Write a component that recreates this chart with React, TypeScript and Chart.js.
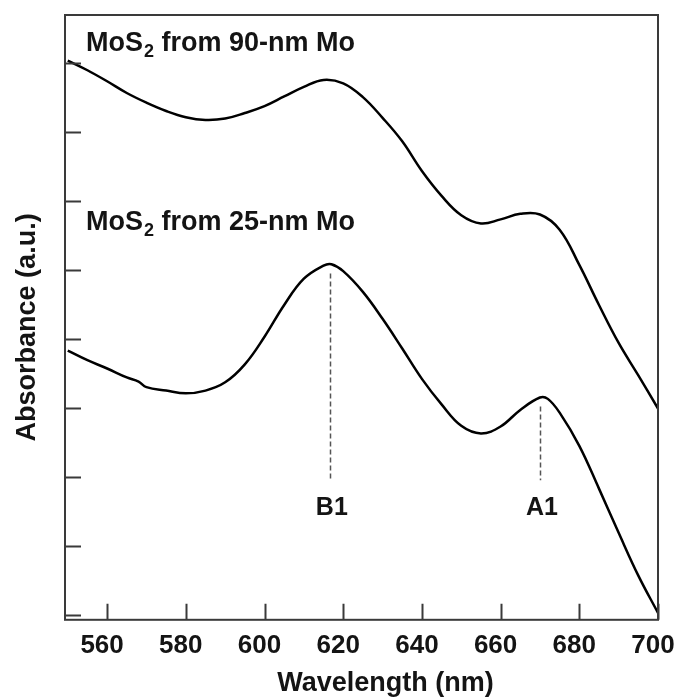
import React, { useEffect, useRef } from 'react';
import { Chart, registerables } from 'chart.js';

Chart.register(...registerables);

// ---- data ----
const WAVELENGTH_90 = [550, 555, 560, 565, 570, 575, 580, 585, 590, 595, 600, 605, 610, 615, 620, 625, 630, 635, 640, 645, 650, 655, 660, 665, 670, 675, 680, 685, 690, 695, 700];
const ABSORBANCE_90 = [8.03, 7.89, 7.73, 7.56, 7.42, 7.30, 7.21, 7.17, 7.19, 7.27, 7.37, 7.51, 7.65, 7.75, 7.70, 7.50, 7.20, 6.86, 6.43, 6.07, 5.79, 5.67, 5.73, 5.81, 5.80, 5.58, 5.07, 4.49, 3.94, 3.47, 2.99];

const WAVELENGTH_25 = [550, 555, 560, 565, 568, 570, 575, 580, 585, 590, 595, 600, 605, 610, 615, 617, 620, 625, 630, 635, 640, 645, 650, 655, 660, 665, 670, 672, 675, 680, 685, 690, 695, 700];
const ABSORBANCE_25 = [3.83, 3.69, 3.57, 3.44, 3.38, 3.30, 3.25, 3.21, 3.25, 3.37, 3.63, 4.03, 4.49, 4.87, 5.06, 5.08, 4.98, 4.68, 4.29, 3.86, 3.42, 3.05, 2.74, 2.63, 2.73, 2.97, 3.15, 3.13, 2.93, 2.45, 1.83, 1.19, 0.57, 0.03];

const X_TICKS = [560, 580, 600, 620, 640, 660, 680, 700];
const Y_TICKS = [0, 1, 2, 3, 4, 5, 6, 7, 8];

const SERIES_PREFIX = ['MoS', 'MoS'];
const SERIES_SUB = ['2', '2'];
const SERIES_SUFFIX = [' from 90-nm Mo', ' from 25-nm Mo'];

const PEAK_NAMES = ['B1', 'A1'];
const PEAK_WAVELENGTHS = [616.6, 670];

const X_TITLE = 'Wavelength (nm)';
const Y_TITLE = 'Absorbance (a.u.)';

const FONT = '"Liberation Sans", Arial, Helvetica, sans-serif';
const AXIS_COLOR = '#3a3a3a';
const TEXT_COLOR = '#141414';

function interp(xs: number[], ys: number[], x: number) {
  for (let i = 0; i < xs.length - 1; i++) {
    if (x >= xs[i] && x <= xs[i + 1]) {
      const t = (x - xs[i]) / (xs[i + 1] - xs[i]);
      return ys[i] + t * (ys[i + 1] - ys[i]);
    }
  }
  return ys[ys.length - 1];
}

const decorPlugin = {
  id: 'decor',
  afterDraw(chart: any) {
    const { ctx, chartArea } = chart;
    const xs = chart.scales.x;
    const ys = chart.scales.y;
    const { left, right, top, bottom } = chartArea;
    ctx.save();

    // frame
    ctx.strokeStyle = AXIS_COLOR;
    ctx.lineWidth = 2;
    ctx.strokeRect(left, top, right - left, bottom - top);

    // inward ticks
    ctx.beginPath();
    Y_TICKS.forEach((v) => {
      const y = Math.round(ys.getPixelForValue(v)) + 0.5;
      ctx.moveTo(left, y);
      ctx.lineTo(left + 16, y);
    });
    X_TICKS.forEach((v) => {
      const x = Math.round(xs.getPixelForValue(v)) + 0.5;
      ctx.moveTo(x, bottom);
      ctx.lineTo(x, bottom - 16);
    });
    ctx.stroke();

    // peak markers
    ctx.strokeStyle = '#555';
    ctx.lineWidth = 1.5;
    ctx.setLineDash([5, 3]);
    PEAK_WAVELENGTHS.forEach((wl) => {
      const x = Math.round(xs.getPixelForValue(wl)) + 0.5;
      const yTop = ys.getPixelForValue(interp(WAVELENGTH_25, ABSORBANCE_25, wl)) + 9;
      const yBot = ys.getPixelForValue(1.95);
      ctx.beginPath();
      ctx.moveTo(x, yTop);
      ctx.lineTo(x, yBot);
      ctx.stroke();
    });
    ctx.setLineDash([]);

    ctx.fillStyle = TEXT_COLOR;
    ctx.font = `bold 25px ${FONT}`;
    ctx.textAlign = 'center';
    ctx.textBaseline = 'middle';
    PEAK_NAMES.forEach((name, i) => {
      const x = xs.getPixelForValue(PEAK_WAVELENGTHS[i]) + 2;
      const y = ys.getPixelForValue(1.55);
      ctx.fillText(name, x, y);
    });

    // series labels with subscript
    ctx.textAlign = 'left';
    ctx.textBaseline = 'alphabetic';
    SERIES_PREFIX.forEach((pre, i) => {
      let x = left + 21;
      const baseY = i === 0 ? top + 36 : ys.getPixelForValue(5.57);
      ctx.font = `bold 27px ${FONT}`;
      ctx.fillText(pre, x, baseY);
      x += ctx.measureText(pre).width + 1;
      ctx.font = `bold 18px ${FONT}`;
      ctx.fillText(SERIES_SUB[i], x, baseY + 6);
      x += ctx.measureText(SERIES_SUB[i]).width;
      ctx.font = `bold 27px ${FONT}`;
      ctx.fillText(SERIES_SUFFIX[i], x, baseY);
    });

    // axis titles
    ctx.font = `bold 27px ${FONT}`;
    ctx.textAlign = 'center';
    ctx.textBaseline = 'middle';
    ctx.fillText(X_TITLE, (left + right) / 2 + 24, bottom + 64);

    ctx.save();
    ctx.translate(left - 37, (top + bottom) / 2 + 10);
    ctx.rotate(-Math.PI / 2);
    ctx.fillText(Y_TITLE, 0, 0);
    ctx.restore();

    ctx.restore();
  },
};

export default function App() {
  const canvasRef = useRef<HTMLCanvasElement | null>(null);

  useEffect(() => {
    if (!canvasRef.current) return;
    const lineStyle = {
      borderColor: '#000',
      borderWidth: 2.5,
      pointRadius: 0,
      fill: false,
      tension: 0.4,
    };
    const chart = new Chart(canvasRef.current, {
      type: 'line',
      data: {
        datasets: [
          {
            label: SERIES_PREFIX[0] + SERIES_SUB[0] + SERIES_SUFFIX[0],
            data: WAVELENGTH_90.map((x, i) => ({ x, y: ABSORBANCE_90[i] })),
            ...lineStyle,
          },
          {
            label: SERIES_PREFIX[1] + SERIES_SUB[1] + SERIES_SUFFIX[1],
            data: WAVELENGTH_25.map((x, i) => ({ x, y: ABSORBANCE_25[i] })),
            ...lineStyle,
          },
        ],
      },
      options: {
        animation: false,
        responsive: true,
        maintainAspectRatio: false,
        layout: { padding: { left: 65, right: 20, top: 15, bottom: 29 } },
        plugins: {
          legend: { display: false },
          tooltip: { enabled: false },
        },
        scales: {
          x: {
            type: 'linear',
            min: 549.3,
            max: 700,
            afterBuildTicks: (scale: any) => {
              scale.ticks = X_TICKS.map((v) => ({ value: v }));
            },
            afterFit: (scale: any) => {
              scale.paddingLeft = 0;
              scale.paddingRight = 0;
            },
            grid: { display: false, drawTicks: false },
            border: { display: false },
            ticks: {
              font: { family: FONT, size: 26, weight: 'bold' },
              color: TEXT_COLOR,
              padding: 10,
              labelOffset: -5,
              maxRotation: 0,
              autoSkip: false,
            },
          },
          y: {
            type: 'linear',
            display: false,
            min: -0.07,
            max: 8.69,
          },
        },
      },
      plugins: [decorPlugin],
    });
    return () => chart.destroy();
  }, []);

  return (
    <div style={{ position: 'absolute', left: 0, top: 0, width: 678, height: 700, background: '#fff' }}>
      <canvas ref={canvasRef} />
    </div>
  );
}
